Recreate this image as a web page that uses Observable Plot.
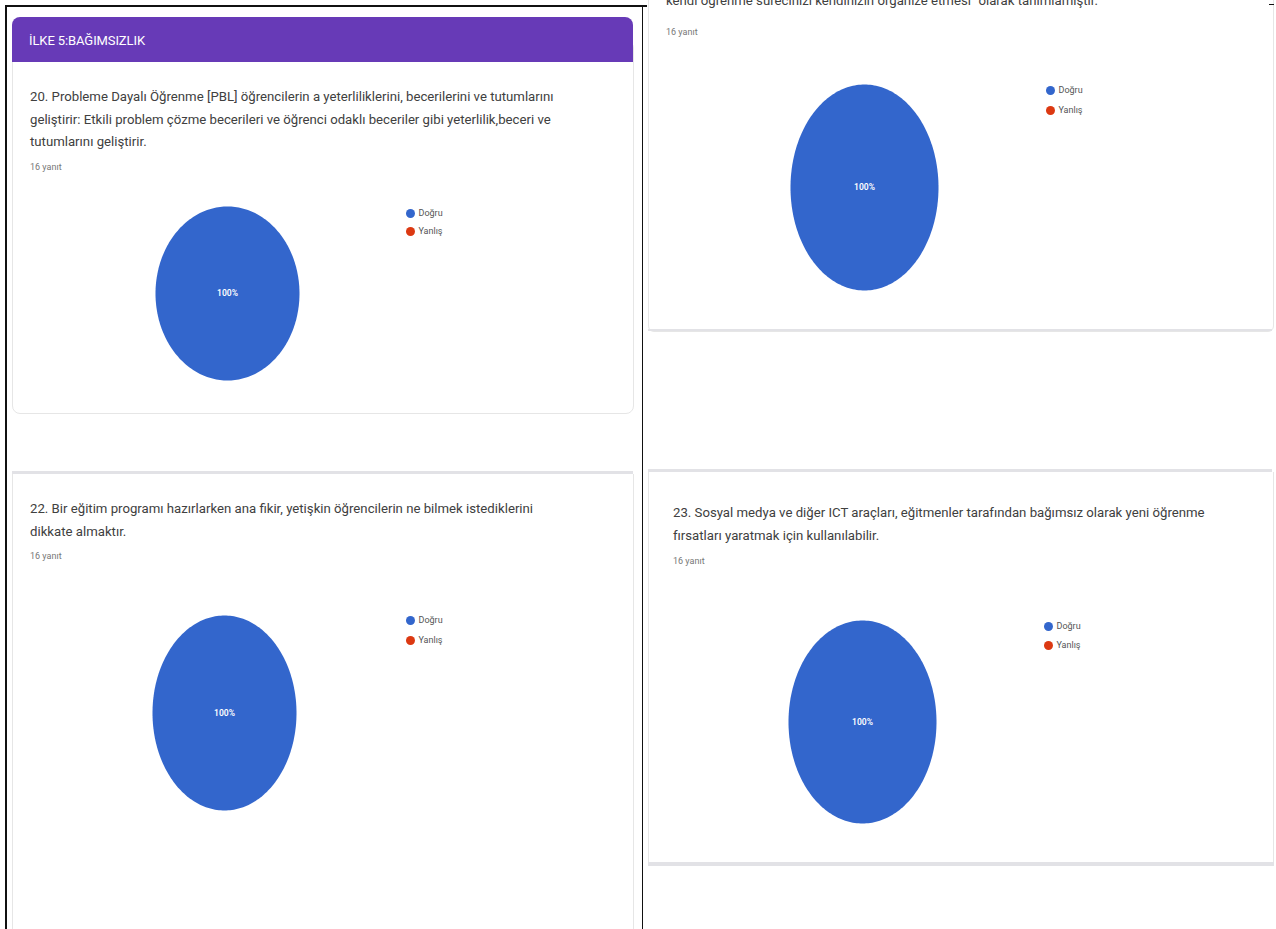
<!DOCTYPE html>
<html>
<head>
<meta charset="utf-8">
<script src="https://cdn.jsdelivr.net/npm/d3@7"></script>
<script src="https://cdn.jsdelivr.net/npm/@observablehq/plot@0.6"></script>
<style>
  html, body { margin: 0; padding: 0; background: #fff; }
  body { width: 1276px; height: 929px; position: relative; overflow: hidden; font-family: Roboto, "Noto Sans", sans-serif; }
  .abs { position: absolute; }
  .q { color: #404040; font-size: 13.2px; line-height: 22.5px; white-space: nowrap; }
  .resp { color: #777; font-size: 9px; white-space: nowrap; }
  .legend { font-size: 9px; color: #555; }
  .legend .row { display: flex; align-items: center; height: 19px; }
  .legend .dot { width: 9px; height: 9px; border-radius: 50%; margin-right: 4px; flex: none; }
  .frame { background: #111; }
  .card { border: 1px solid #e6e6e6; background: #fff; }
  .band { background: #e2e2e6; }
</style>
</head>
<body>
<script>
// ---- data ----
const categories = ["Doğru", "Yanlış"];
const sliceColors = ["#3366cc", "#dc3912"];
const q20Counts = [16, 0];
const q21Counts = [16, 0];
const q22Counts = [16, 0];
const q23Counts = [16, 0];
const responseLabel = "16 yanıt";
const sectionTitle = "İLKE 5:BAĞIMSIZLIK";
const q20Lines = [
  "20. Probleme Dayalı Öğrenme [PBL] öğrencilerin a yeterliliklerini, becerilerini ve tutumlarını",
  "geliştirir: Etkili problem çözme becerileri ve öğrenci odaklı beceriler gibi yeterlilik,beceri ve",
  "tutumlarını geliştirir."
];
const q21Lines = ["kendi öğrenme sürecinizi kendinizin organize etmesi\" olarak tanımlamıştır."];
const q22Lines = [
  "22. Bir eğitim programı hazırlarken ana fikir, yetişkin öğrencilerin ne bilmek istediklerini",
  "dikkate almaktır."
];
const q23Lines = [
  "23. Sosyal medya ve diğer ICT araçları, eğitmenler tarafından bağımsız olarak yeni öğrenme",
  "fırsatları yaratmak için kullanılabilir."
];

function box(cls, l, t, w, h, extra = "") {
  const d = document.createElement("div");
  d.className = "abs " + cls;
  d.style.cssText = `left:${l}px;top:${t}px;width:${w}px;height:${h}px;${extra}`;
  document.body.appendChild(d);
  return d;
}
function text(cls, l, t, lines) {
  const d = document.createElement("div");
  d.className = "abs " + cls;
  d.style.left = l + "px"; d.style.top = t + "px";
  d.innerHTML = lines.map(s => `<div>${s.replace(/</g, "&lt;")}</div>`).join("");
  document.body.appendChild(d);
  return d;
}

function pieChart(counts, w, h) {
  const total = d3.sum(counts);
  const arcs = d3.pie().sort(null).startAngle(0).endAngle(2 * Math.PI)(counts);
  const pts = [];
  const labels = [];
  arcs.forEach((a, i) => {
    const span = a.endAngle - a.startAngle;
    if (span <= 0) return;
    const cat = categories[i];
    const n = Math.max(8, Math.ceil(span / (2 * Math.PI) * 240));
    if (span < 2 * Math.PI - 1e-9) pts.push({cat, x: 0, y: 0});
    for (let k = 0; k <= n; ++k) {
      const ang = a.startAngle + span * k / n;
      pts.push({cat, x: Math.sin(ang), y: Math.cos(ang)});
    }
    const share = counts[i] / total;
    const mid = (a.startAngle + a.endAngle) / 2;
    const r = share === 1 ? 0 : 0.6;
    labels.push({x: r * Math.sin(mid), y: r * Math.cos(mid), label: Math.round(share * 100) + "%"});
  });
  return Plot.plot({
    width: w, height: h, margin: 0,
    x: {domain: [-1, 1], axis: null},
    y: {domain: [-1, 1], axis: null},
    color: {domain: categories, range: sliceColors},
    style: {background: "transparent", overflow: "visible"},
    marks: [
      Plot.line(pts, {x: "x", y: "y", z: "cat", fill: "cat", stroke: "none", curve: "linear"}),
      Plot.text(labels, {x: "x", y: "y", text: "label", fill: "white", fontSize: 8.5, fontWeight: 600, fontFamily: "Roboto, sans-serif"})
    ]
  });
}

function placePie(counts, cx, cy, rx, ry, lx, ly, gap) {
  const svg = pieChart(counts, 2 * rx, 2 * ry);
  const holder = document.createElement("div");
  holder.className = "abs";
  holder.style.left = (cx - rx) + "px";
  holder.style.top = (cy - ry) + "px";
  holder.appendChild(svg);
  document.body.appendChild(holder);
  const color = svg.scale("color");
  const lg = document.createElement("div");
  lg.className = "abs legend";
  lg.style.left = (lx - 4.5) + "px";
  lg.style.top = (ly - gap / 2) + "px";
  lg.innerHTML = categories.map(c =>
    `<div class="row" style="height:${gap}px"><div class="dot" style="background:${color.apply(c)}"></div><span>${c}</span></div>`
  ).join("");
  document.body.appendChild(lg);
}

// ---- cards / frame ----
box("card", 12, 40, 620, 372, "border-radius:8px;");
box("", 12, 17, 621, 45, "background:#673ab7;border-radius:8px 8px 0 0;");
box("band", 12, 471, 621, 3);
box("card", 12, 474, 620, 470, "border-top:none;");
box("card", 648, -20, 624, 350, "border-radius:0 0 6px 6px;");
box("band", 648, 329, 624, 2);
box("band", 648, 469, 624, 3);
box("card", 648, 472, 624, 390, "border-top:none;");
box("band", 648, 862, 626, 4);

// black frame
box("frame", 5, 5, 642, 1.5);
box("frame", 5, 5, 1.5, 930);
box("frame", 641.5, 5, 1.5, 930);
box("frame", 1269, 4, 5, 1.2);

// ---- texts ----
const hdr = text("", 29, 33, [sectionTitle]);
hdr.style.cssText += "color:#fff;font-size:13px;letter-spacing:-0.1px;white-space:nowrap;";
text("q", 30, 86, q20Lines);
text("resp", 30, 162, [responseLabel]);
text("q", 666, -10, q21Lines);
text("resp", 666, 27, [responseLabel]);
text("q", 30, 498, q22Lines);
text("resp", 30, 551, [responseLabel]);
text("q", 673, 502, q23Lines);
text("resp", 673, 556, [responseLabel]);

// ---- pies ----
placePie(q20Counts, 227, 293, 72, 87, 410, 213, 18);
placePie(q21Counts, 864, 187, 74, 103, 1050, 90, 20);
placePie(q22Counts, 224, 712.5, 72, 97.5, 410, 620, 20);
placePie(q23Counts, 862, 721.5, 74, 101.5, 1048, 626, 19);
</script>
</body>
</html>
